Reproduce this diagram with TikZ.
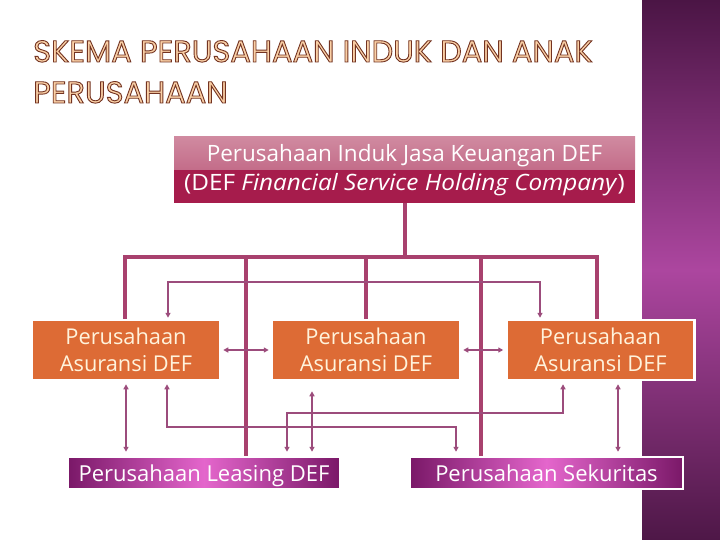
\documentclass[tikz,border=0pt]{standalone}
\usepackage{fontspec}
\setmainfont{Open Sans}
\newfontfamily\titlefont{Poppins}
\usetikzlibrary{arrows.meta,calc}
\definecolor{thickc}{HTML}{A8416E}
\definecolor{thinc}{HTML}{9C4C7C}
\definecolor{boxorange}{HTML}{DD6B35}
\definecolor{cream}{HTML}{FFF3DC}
\definecolor{pdark}{HTML}{7A1868}
\definecolor{plight}{HTML}{E466CC}
\definecolor{holdtop}{HTML}{D08AA0}
\definecolor{holdmid}{HTML}{B64E72}
\definecolor{holdlow}{HTML}{A61C4C}
\definecolor{bandtop}{HTML}{4B1545}
\definecolor{bandmid}{HTML}{AC469F}
\definecolor{bandbot}{HTML}{4E1747}
\definecolor{titlefill}{HTML}{FAD0A6}
\newcommand{\outltext}[1]{{\color{titlefill}\special{pdf:literal direct 0.45 0.2 0.13 RG 0.9 w 2 Tr}#1\special{pdf:literal direct 0 Tr}}}
\tikzset{
  thickln/.style={draw=thickc, line width=4pt},
  thinln/.style={draw=thinc, line width=1.8pt, arrows={Triangle[length=5pt,width=5pt]-Triangle[length=5pt,width=5pt]}},
  orangebox/.style={fill=boxorange, draw=white, line width=2.5pt, minimum width=188pt, minimum height=60pt, inner sep=0pt, align=center, text=cream, font=\fontsize{21.8}{27}\selectfont},
  purplebox/.style={draw=white, line width=2.5pt, left color=pdark, right color=pdark, middle color=plight, minimum height=32pt, inner sep=0pt, text=white, text height=17.5pt, text depth=0.5pt, font=\fontsize{22}{24}\selectfont},
  titletext/.style={anchor=base west, inner sep=0pt, font=\titlefont\fontsize{30.5}{32}\selectfont},
}
\begin{document}
\begin{tikzpicture}[x=1pt,y=-1pt]
\useasboundingbox (0,0) rectangle (720,540);
\fill[white] (0,0) rectangle (720,540);
\shade[top color=bandtop, bottom color=bandbot, middle color=bandmid] (642,0) rectangle (720,540);

\node[titletext] (t1) at (33,62) {\outltext{SKEMA PERUSAHAAN INDUK DAN ANAK}};
\node[titletext] (t2) at (33,103) {\outltext{PERUSAHAAN}};

\node[minimum width=461pt, minimum height=66pt, inner sep=0pt, align=center, text=white,
  font=\fontsize{22.5}{29}\selectfont,
  path picture={
    \shade[top color=holdtop, bottom color=holdmid] (path picture bounding box.north west) rectangle (path picture bounding box.east);
    \fill[holdlow] (path picture bounding box.west) rectangle (path picture bounding box.south east);
  }] (hold) at (404.5,170) {Perusahaan Induk Jasa Keuangan DEF\\\scalebox{1.08}[1]{(DEF \textit{Financial Service Holding Company})}};

\node[orangebox] (b1) at (126,350) {Perusahaan\\Asuransi DEF};
\node[orangebox] (b2) at (366,350) {Perusahaan\\Asuransi DEF};
\node[orangebox] (b3) at (600.5,350) {Perusahaan\\Asuransi DEF};
\node[purplebox, minimum width=272pt] (lease) at (204,473) {Perusahaan Leasing DEF};
\node[purplebox, minimum width=273pt] (sek) at (546.5,473) {Perusahaan Sekuritas};

% thick tree
\coordinate (barL) at (125,257);
\coordinate (barR) at (597,257);
\coordinate (v2) at (246,257);
\coordinate (v4) at (481,257);
\draw[thickln] (hold.south) -- (hold.south |- barL);
\draw[thickln, line cap=rect] (barL) -- (barR);
\draw[thickln] (barL) -- (barL |- b1.north);
\draw[thickln] (v2) -- (v2 |- lease.north);
\draw[thickln] (b2.north |- barL) -- (b2.north);
\draw[thickln] (v4) -- (v4 |- sek.north);
\draw[thickln] (barR) -- (barR |- b3.north);

% thin connectors
\coordinate (a1) at (168,282);
\coordinate (a2) at (540,282);
\draw[thinln, shorten >=1pt, shorten <=1pt] (a1 |- b1.north) -- (a1) -- (a2) -- (a2 |- b3.north);
\draw[thinln, shorten >=2pt, shorten <=2pt] (b1.east) -- (b2.west);
\draw[thinln, shorten >=2pt, shorten <=2pt] (b2.east) -- (b3.west);
\draw[thinln, shorten >=4pt, shorten <=3pt] (b1.south) -- (b1.south |- lease.north);
\coordinate (c1) at (167,427);
\coordinate (c2) at (456,427);
\draw[thinln, shorten >=4pt, shorten <=3pt] (c1 |- b1.south) -- (c1) -- (c2) -- (c2 |- sek.north);
\coordinate (d1) at (287,413);
\coordinate (d2) at (563,413);
\draw[thinln, shorten >=3pt, shorten <=4pt] (d1 |- lease.north) -- (d1) -- (d2) -- (d2 |- b3.south);
\coordinate (e1) at (312,400);
\draw[thinln, shorten >=4pt, shorten <=10pt] (e1 |- b2.south) -- (e1 |- lease.north);
\coordinate (f1) at (618,400);
\draw[thinln, shorten >=4pt, shorten <=3pt] (f1 |- b3.south) -- (f1 |- sek.north);
\end{tikzpicture}
\end{document}
